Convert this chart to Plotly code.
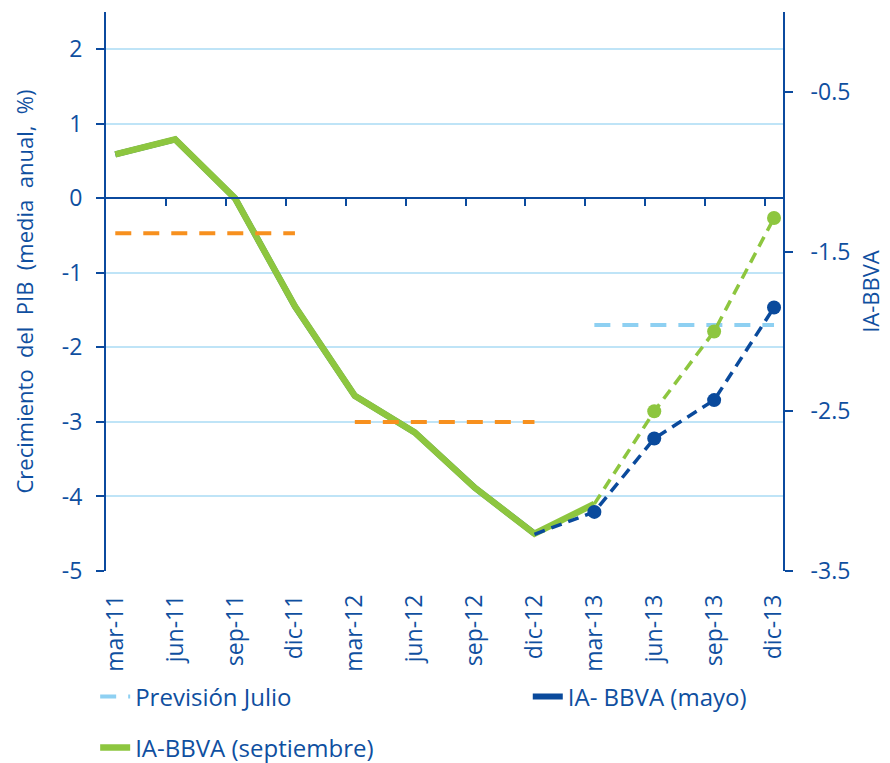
from plotly import graph_objs as go

# trimestres
quarters = ['mar-11', 'jun-11', 'sep-11', 'dic-11', 'mar-12', 'jun-12',
            'sep-12', 'dic-12', 'mar-13', 'jun-13', 'sep-13', 'dic-13']

# crecimiento observado (eje izquierdo, %)
sept_hist_q = quarters[:9]
sept_hist = [0.59, 0.79, 0.0, -1.45, -2.65, -3.14, -3.88, -4.5, -4.1]
mayo_hist_q = quarters[:8]
mayo_hist = [0.59, 0.79, 0.0, -1.45, -2.65, -3.14, -3.88, -4.5]

# previsiones IA-BBVA (eje derecho)
sept_fc_q = ['mar-13', 'jun-13', 'sep-13', 'dic-13']
sept_fc = [-3.08, -2.5, -2.0, -1.29]
mayo_fc_q = ['dic-12', 'mar-13', 'jun-13', 'sep-13', 'dic-13']
mayo_fc = [-3.27, -3.13, -2.67, -2.43, -1.85]

# medias anuales
media_2011_q = ['mar-11', 'dic-11']
media_2011 = [-0.47, -0.47]
media_2012_q = ['mar-12', 'dic-12']
media_2012 = [-3.0, -3.0]
prevision_julio_q = ['mar-13', 'dic-13']
prevision_julio = [-1.7, -1.7]

left_ticks = [-5, -4, -3, -2, -1, 0, 1, 2]
right_ticks = [-3.5, -2.5, -1.5, -0.5]

BLUE_TXT = '#0f4fa0'
AXIS = '#0b4a9e'
GRID = '#bfe4f7'
GREEN = '#8dc63f'
NAVY = '#0a4a9c'
LIGHT = '#8ed0f2'
ORANGE = '#f7901e'
FONT = 'Open Sans'

pos = {q: i for i, q in enumerate(quarters)}


def idx(qs):
    return [pos[q] for q in qs]


fig = go.Figure()

# medias anuales (eje x secundario, sobre la linea del cero)
fig.add_trace(go.Scatter(x=idx(media_2011_q), y=media_2011, mode='lines', xaxis='x2',
                         showlegend=False, hoverinfo='none',
                         line=dict(color=ORANGE, width=4, dash='16px,12px')))
fig.add_trace(go.Scatter(x=idx(media_2012_q), y=media_2012, mode='lines', xaxis='x2',
                         showlegend=False, hoverinfo='none',
                         line=dict(color=ORANGE, width=4, dash='16px,12px')))
fig.add_trace(go.Scatter(x=idx(prevision_julio_q), y=prevision_julio, mode='lines',
                         name='Previsión Julio', legend='legend',
                         line=dict(color=LIGHT, width=4, dash='16px,12px')))

# IA-BBVA mayo
fig.add_trace(go.Scatter(x=idx(mayo_hist_q), y=mayo_hist, mode='lines',
                         name='IA- BBVA (mayo)', legend='legend3',
                         line=dict(color=NAVY, width=6)))
fig.add_trace(go.Scatter(x=idx(mayo_fc_q), y=mayo_fc, mode='lines+markers', yaxis='y2',
                         showlegend=False,
                         marker=dict(color=NAVY, size=[0] + [14] * (len(mayo_fc) - 1),
                                     opacity=1, line=dict(width=0)),
                         line=dict(color=NAVY, width=3.5, dash='11px,7px')))

# IA-BBVA septiembre
fig.add_trace(go.Scatter(x=idx(sept_fc_q), y=sept_fc, mode='lines+markers', yaxis='y2',
                         showlegend=False,
                         marker=dict(color=GREEN, size=[0] + [14] * (len(sept_fc) - 1),
                                     opacity=1, line=dict(width=0)),
                         line=dict(color=GREEN, width=3.5, dash='11px,7px')))
fig.add_trace(go.Scatter(x=idx(sept_hist_q), y=sept_hist, mode='lines',
                         name='IA-BBVA (septiembre)', legend='legend2',
                         line=dict(color=GREEN, width=6.5)))

legend_style = dict(orientation='h', xanchor='left', yanchor='middle',
                    font=dict(size=24, color=BLUE_TXT), bgcolor='rgba(0,0,0,0)')

xr = [-0.155, 11.15]
fig.update_layout(
    width=882, height=755,
    margin=dict(l=98, r=107, t=4, b=192, autoexpand=False),
    paper_bgcolor='white', plot_bgcolor='white',
    font=dict(family=FONT, size=22, color=BLUE_TXT),
    xaxis=dict(range=xr, tickmode='array', tickvals=list(range(len(quarters))),
               ticktext=quarters, tickangle=-90, showline=False, ticks='',
               showgrid=False, zeroline=False, automargin=False,
               ticklabelstandoff=18, tickfont=dict(size=23, color=BLUE_TXT)),
    xaxis2=dict(range=xr, overlaying='x', anchor='free', position=5 / 7.5,
                tickmode='array', tickvals=[i - 0.15 for i in range(1, len(quarters))],
                showticklabels=False, ticks='outside', ticklen=7, tickwidth=2,
                tickcolor=AXIS, showline=True, linecolor=AXIS, linewidth=2,
                showgrid=False, zeroline=False, automargin=False),
    yaxis=dict(range=[-5, 2.5], tickmode='array', tickvals=left_ticks,
               ticktext=[str(v) for v in left_ticks],
               showgrid=True, gridcolor=GRID, gridwidth=2, zeroline=False,
               showline=True, linecolor=AXIS, linewidth=2, ticks='outside',
               ticklen=8, tickwidth=2, tickcolor=AXIS, ticklabelstandoff=9,
               automargin=False, tickfont=dict(size=23, color=BLUE_TXT),
               title=dict(text='Crecimiento  del  PIB  (media  anual,  %)',
                          standoff=22, font=dict(size=22, color=BLUE_TXT))),
    yaxis2=dict(range=[-3.5, 0], overlaying='y', side='right', anchor='x',
                tickmode='array', tickvals=right_ticks,
                ticktext=['%.1f' % v for v in right_ticks],
                showgrid=False, zeroline=False, showline=True, linecolor=AXIS,
                linewidth=2, ticks='outside', ticklen=8, tickwidth=2, tickcolor=AXIS,
                ticklabelstandoff=13, automargin=False,
                tickfont=dict(size=23, color=BLUE_TXT),
                title=dict(text='IA-BBVA', standoff=14, font=dict(size=22, color=BLUE_TXT))),
    legend=dict(x=-0.016, y=-0.2254, **legend_style),
    legend3=dict(x=0.623, y=-0.2254, **legend_style),
    legend2=dict(x=-0.016, y=-0.3166, **legend_style),
)

fig.write_html("out.html")
